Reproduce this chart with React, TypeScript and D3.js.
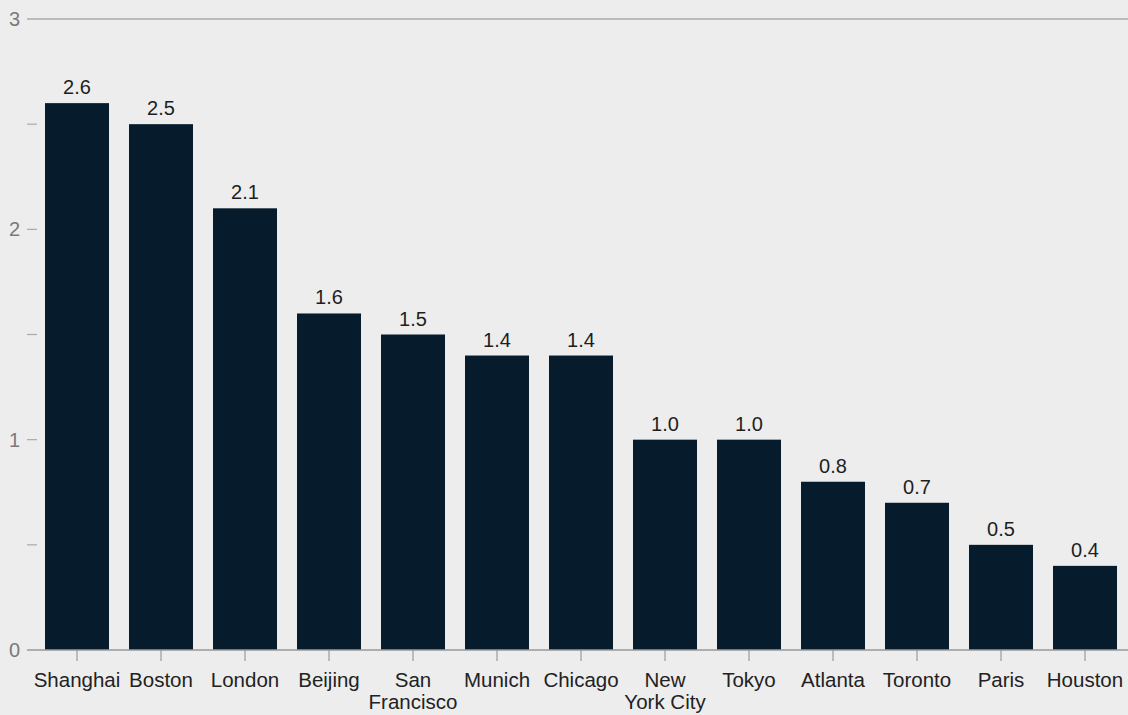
import React from "react";
import * as d3 from "d3";

const categories = [
  "Shanghai",
  "Boston",
  "London",
  "Beijing",
  "San\nFrancisco",
  "Munich",
  "Chicago",
  "New\nYork City",
  "Tokyo",
  "Atlanta",
  "Toronto",
  "Paris",
  "Houston",
];
const values = [2.6, 2.5, 2.1, 1.6, 1.5, 1.4, 1.4, 1.0, 1.0, 0.8, 0.7, 0.5, 0.4];
const yTicks = [0, 0.5, 1, 1.5, 2, 2.5, 3];
const yTickLabels = ["0", "", "1", "", "2", "", "3"];

const W = 1128;
const H = 715;
const FONT = "'Liberation Sans', Arial, sans-serif";

export default function App() {
  const x = d3
    .scaleBand<string>()
    .domain(categories)
    .range([35, 1127])
    .paddingInner(20 / 84)
    .paddingOuter(10 / 84);
  const y = d3.scaleLinear().domain([0, 3]).range([650, 19]);

  return (
    <div
      style={{
        position: "fixed",
        left: 0,
        top: 0,
        width: W,
        height: H,
        background: "#ededed",
      }}
    >
      <svg width={W} height={H} style={{ display: "block" }} fontFamily={FONT}>
        <rect x={0} y={0} width={W} height={H} fill="#ededed" />
        {/* top gridline */}
        <line x1={27} x2={W} y1={y(3)} y2={y(3)} stroke="#aaaaaa" strokeWidth={1.5} />
        {/* y ticks */}
        {yTicks.map((t, i) => (
          <g key={i}>
            {t !== 3 && t !== 0 && (
              <line x1={27} x2={37} y1={y(t)} y2={y(t)} stroke="#aaaaaa" strokeWidth={1.2} />
            )}
            {yTickLabels[i] && (
              <text
                x={20}
                y={y(t) + 7}
                textAnchor="end"
                fontSize={20}
                fill="#7a7a7a"
              >
                {yTickLabels[i]}
              </text>
            )}
          </g>
        ))}
        {/* bars */}
        {categories.map((c, i) => (
          <g key={c}>
            <rect
              x={x(c)!}
              y={y(values[i])}
              width={x.bandwidth()}
              height={y(0) - y(values[i])}
              fill="#061c2c"
            />
            <text
              x={x(c)! + x.bandwidth() / 2}
              y={y(values[i]) - 9}
              textAnchor="middle"
              fontSize={20}
              fill="#1e1e1e"
            >
              {values[i].toFixed(1)}
            </text>
          </g>
        ))}
        {/* baseline */}
        <line x1={27} x2={W} y1={y(0)} y2={y(0)} stroke="#999" strokeWidth={1.5} />
        {/* x ticks & labels */}
        {categories.map((c) => {
          const cx = x(c)! + x.bandwidth() / 2;
          const lines = c.split("\n");
          return (
            <g key={"x" + c}>
              <line x1={cx} x2={cx} y1={y(0)} y2={y(0) + 11} stroke="#999" strokeWidth={1.2} />
              <text textAnchor="middle" fontSize={20.5} fill="#222">
                {lines.map((l, j) => (
                  <tspan key={j} x={cx} y={687 + j * 22}>
                    {l}
                  </tspan>
                ))}
              </text>
            </g>
          );
        })}
      </svg>
    </div>
  );
}
